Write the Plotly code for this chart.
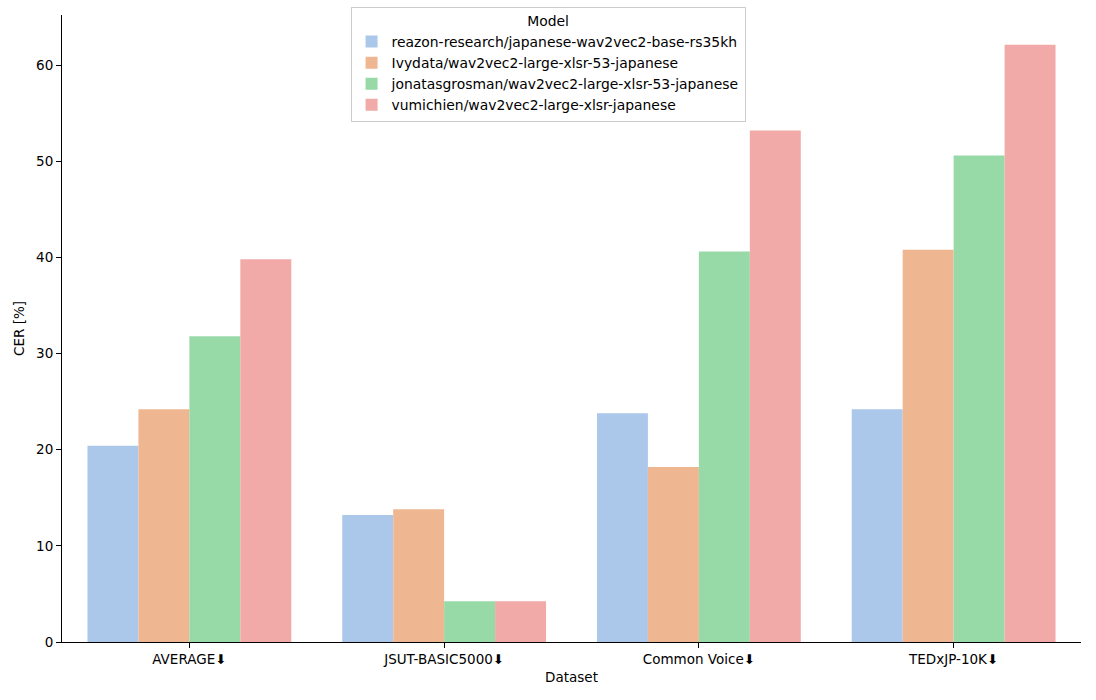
import plotly.graph_objects as go

datasets = ["AVERAGE⬇", "JSUT-BASIC5000⬇", "Common Voice⬇", "TEDxJP-10K⬇"]
models = [
    "reazon-research/japanese-wav2vec2-base-rs35kh",
    "Ivydata/wav2vec2-large-xlsr-53-japanese",
    "jonatasgrosman/wav2vec2-large-xlsr-53-japanese",
    "vumichien/wav2vec2-large-xlsr-japanese",
]
reazon = [20.4, 13.2, 23.8, 24.2]
ivydata = [24.2, 13.8, 18.2, 40.8]
jonatas = [31.8, 4.25, 40.6, 50.6]
vumichien = [39.8, 4.25, 53.2, 62.1]
values = [reazon, ivydata, jonatas, vumichien]
colors = ["#abc8eb", "#efb692", "#98d9a8", "#f1aaa8"]

fig = go.Figure()
for m, v, c in zip(models, values, colors):
    fig.add_trace(go.Bar(x=datasets, y=v, name=m, marker=dict(color=c, line=dict(width=0))))

font = "DejaVu Sans"
fs = 13.5
lfs = 13.9
fig.update_layout(
    width=1096, height=700,
    barmode="group", bargap=0.2, bargroupgap=0,
    plot_bgcolor="white", paper_bgcolor="white",
    margin=dict(l=62, r=15, t=15, b=58, autoexpand=False),
    font=dict(family=font, size=fs, color="black"),
    legend=dict(
        title=dict(text="Model", side="top center", font=dict(size=lfs)),
        x=0.477, xanchor="center", y=0.99, yanchor="top", yref="container",
        bgcolor="rgba(255,255,255,0.8)", bordercolor="#cccccc", borderwidth=1,
        font=dict(size=lfs), tracegroupgap=0,
    ),
    xaxis=dict(
        title=dict(text="Dataset", font=dict(size=fs), standoff=6),
        range=[-0.5, 3.5], showline=True, linecolor="black", linewidth=1,
        ticks="outside", ticklen=5, tickcolor="black", showgrid=False, zeroline=False,
        automargin=False,
    ),
    yaxis=dict(
        title=dict(text="CER [%]", font=dict(size=fs), standoff=8),
        range=[0, 65.2], showline=True, linecolor="black", linewidth=1,
        ticks="outside", ticklen=5, tickcolor="black", showgrid=False, zeroline=False,
        tickvals=[0, 10, 20, 30, 40, 50, 60], automargin=False,
    ),
)
fig.write_html("out.html", config={"displayModeBar": False},
               post_script="document.body.style.margin='0';")
